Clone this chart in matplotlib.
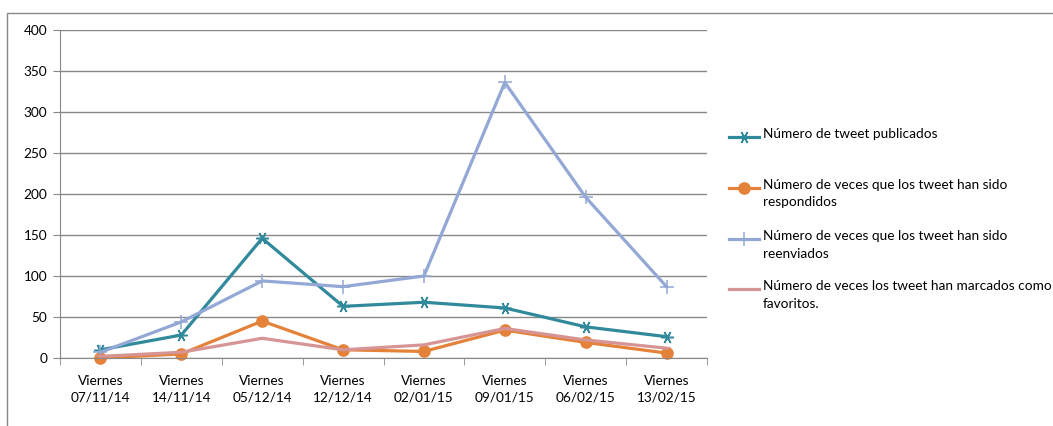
import matplotlib
matplotlib.use("Agg")
import matplotlib.pyplot as plt
from matplotlib.lines import Line2D
from matplotlib.patches import Rectangle
import numpy as np

plt.rcParams['font.family'] = ['Lato', 'DejaVu Sans']

fechas = ["07/11/14", "14/11/14", "05/12/14", "12/12/14",
          "02/01/15", "09/01/15", "06/02/15", "13/02/15"]
etiquetas = ["Viernes\n" + f for f in fechas]

publicados = [10, 28, 146, 63, 68, 61, 38, 26]
respondidos = [0, 5, 45, 10, 8, 34, 19, 6]
reenviados = [7, 44, 94, 87, 100, 336, 196, 87]
favoritos = [2, 7, 24, 10, 16, 36, 22, 12]

nombres = ["Número de tweet publicados",
           "Número de veces que los tweet han sido\nrespondidos",
           "Número de veces que los tweet han sido\nreenviados",
           "Número de veces los tweet han marcados como\nfavoritos."]
colores = ["#31899C", "#E5823A", "#93A8D5", "#D69594"]
marcadores = [(6, 2, 30), "o", "+", "_"]
tam_marcador = [9, 8, 10, 6]

W, H = 1053, 426
fig = plt.figure(figsize=(W / 100, H / 100), dpi=100)
ax = fig.add_axes([60 / W, 1 - 358 / H, 647 / W, 328 / H])

x = np.arange(len(fechas))
series = [publicados, respondidos, reenviados, favoritos]
for datos, col, mk, ms in zip(series, colores, marcadores, tam_marcador):
    ax.plot(x, datos, color=col, lw=2.3, marker=mk, markersize=ms,
            markeredgewidth=1.1, clip_on=False)

ax.set_xlim(-0.5, len(fechas) - 0.5)
ax.set_ylim(0, 400)
ax.set_yticks(range(0, 401, 50))
ax.set_xticks(x)
ax.set_xticklabels(etiquetas, fontsize=9.8, linespacing=1.5)
ax.set_xticks(np.arange(-0.5, len(fechas), 1), minor=True)
ax.tick_params(axis='x', which='major', length=0, pad=12)
ax.tick_params(axis='x', which='minor', length=5, color='#888888')
ax.tick_params(axis='y', length=5, color='#888888', labelsize=9.8, pad=4)
ax.grid(axis='y', color='#888888', lw=1)
ax.set_axisbelow(True)
for s in ['top', 'right']:
    ax.spines[s].set_visible(False)
for s in ['left', 'bottom']:
    ax.spines[s].set_color('#888888')

# marco exterior
fig.add_artist(Rectangle((7 / W, -0.05), 1.2, 1 - 13 / H + 0.05,
                         transform=fig.transFigure, fill=False,
                         edgecolor='#888888', lw=1))

# leyenda
filas_y = [137, 188, 239, 289]
for nombre, col, mk, ms, yp in zip(nombres, colores, marcadores, tam_marcador, filas_y):
    fy = 1 - yp / H
    fig.add_artist(Line2D([729 / W, 759 / W], [fy, fy], transform=fig.transFigure,
                          color=col, lw=2.3))
    fig.add_artist(Line2D([744 / W], [fy], transform=fig.transFigure, color=col,
                          marker=mk, markersize=ms, markeredgewidth=1.1))
    fig.text(763 / W, 1 - (yp - 9) / H, nombre, fontsize=9.8, va='top',
             ha='left', linespacing=1.55)

fig.savefig("out.png", dpi=100)
